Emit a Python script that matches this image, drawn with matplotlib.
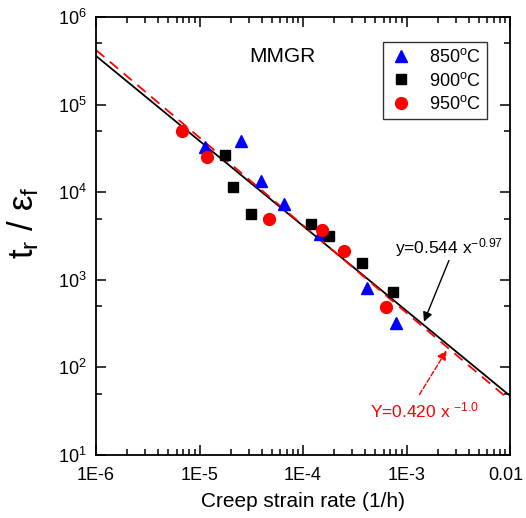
import matplotlib
matplotlib.use("Agg")
import matplotlib.pyplot as plt
import matplotlib.transforms as mtransforms
import numpy as np
from matplotlib.ticker import LogLocator, FixedLocator, FixedFormatter, NullFormatter

plt.rcParams['font.family'] = ['Liberation Sans', 'DejaVu Sans']
plt.rcParams['mathtext.fontset'] = 'custom'
plt.rcParams['mathtext.rm'] = 'Liberation Sans'
plt.rcParams['mathtext.it'] = 'Liberation Sans:italic'
plt.rcParams['mathtext.bf'] = 'Liberation Sans:bold'

# ---- data ----
rate_850 = [1.13e-5, 2.52e-5, 3.93e-5, 6.55e-5, 1.46e-4, 4.15e-4, 7.92e-4]
val_850 = [3.29e4, 3.84e4, 1.34e4, 7.33e3, 3.33e3, 806, 321]

rate_900 = [1.76e-5, 2.11e-5, 3.15e-5, 1.19e-4, 1.78e-4, 3.72e-4, 7.41e-4]
val_900 = [2.66e4, 1.15e4, 5.64e3, 4.33e3, 3.16e3, 1.56e3, 726]

rate_950 = [6.78e-6, 1.18e-5, 4.69e-5, 1.53e-4, 2.49e-4, 6.34e-4]
val_950 = [5.0e4, 2.52e4, 4.94e3, 3.70e3, 2.13e3, 489]

fit_black = (0.544, -0.97)
fit_red = (0.420, -1.0)

xtick_vals = [1e-6, 1e-5, 1e-4, 1e-3, 1e-2]
xtick_labels = ['1E-6', '1E-5', '1E-4', '1E-3', '0.01']

fig = plt.figure(figsize=(5.26, 5.18), dpi=100)
ax = fig.add_axes([96/526, 1-455/518, (510-96)/526, (455-17)/518])

xx = np.logspace(-6, -2, 200)
ax.plot(xx, fit_black[0]*xx**fit_black[1], color='black', lw=1.3, zorder=2)
ax.plot(xx, fit_red[0]*xx**fit_red[1], color='red', lw=1.3, dashes=(6, 4), zorder=2)

ax.plot(rate_850, val_850, linestyle='none', marker='^', ms=9, color='blue', mec='blue', label='850$^\\mathrm{o}$C', zorder=3)
ax.plot(rate_900, val_900, linestyle='none', marker='s', ms=7, color='black', label='900$^\\mathrm{o}$C', zorder=3)
ax.plot(rate_950, val_950, linestyle='none', marker='o', ms=8.5, color='red', label='950$^\\mathrm{o}$C', zorder=3)

ax.set_xscale('log')
ax.set_yscale('log')
ax.set_xlim(1e-6, 1e-2)
ax.set_ylim(10, 1e6)

ax.xaxis.set_major_locator(FixedLocator(xtick_vals))
ax.xaxis.set_major_formatter(FixedFormatter(xtick_labels))
ax.xaxis.set_minor_locator(LogLocator(base=10, subs=np.arange(2, 10), numticks=20))
ax.xaxis.set_minor_formatter(NullFormatter())
ax.yaxis.set_major_locator(LogLocator(base=10, numticks=10))
ax.yaxis.set_minor_locator(LogLocator(base=10, subs=[5.0], numticks=10))
ax.yaxis.set_minor_formatter(NullFormatter())

ax.tick_params(which='both', direction='in', top=True, right=True, width=1.1)
ax.tick_params(which='major', length=7, labelsize=13)
ax.tick_params(axis='x', which='major', pad=8.5)
ax.tick_params(axis='y', which='major', pad=6.5)
ax.tick_params(which='minor', length=4)
for s in ax.spines.values():
    s.set_linewidth(1.3)

ax.set_xlabel('Creep strain rate (1/h)', fontsize=15)
ax.xaxis.set_label_coords(0.5, -0.085)
ax.set_ylabel('t$_\\mathrm{r}$ / ε$_\\mathrm{f}$', fontsize=25)
ax.yaxis.set_label_coords(-0.133, 0.53)

ax.text(0.45, 0.91, 'MMGR', transform=ax.transAxes, fontsize=15, ha='center', va='center')

leg = ax.legend(loc='upper right', bbox_to_anchor=(0.944, 0.943), borderaxespad=0,
                fontsize=13, frameon=True, fancybox=False, handletextpad=0.9,
                borderpad=0.35, labelspacing=0.3, handlelength=1.3)
leg.get_frame().set_edgecolor('black')
leg.get_frame().set_linewidth(1.0)

# black annotation
xb_tip = 1.44e-3
ax.annotate('', xy=(xb_tip, fit_black[0]*xb_tip**fit_black[1]), xytext=(2.63e-3, 1775),
            arrowprops=dict(arrowstyle='-|>', color='black', lw=1.0, mutation_scale=14))
ax.text(7.74e-4, 2023, 'y=0.544 x$^{-0.97}$', fontsize=12.5, ha='left', va='baseline')

# red annotation
xr_tip = 2.52e-3
ax.annotate('', xy=(xr_tip, fit_red[0]*xr_tip**fit_red[1]), xytext=(1.29e-3, 45.9),
            arrowprops=dict(arrowstyle='-|>', color='red', lw=1.0, linestyle='--', mutation_scale=14))
ax.text(4.44e-4, 27.2, 'Y=0.420 x $^{-1.0}$', fontsize=12.5, color='red', ha='left', va='baseline')

# keep the last x tick label inside the canvas
fig.canvas.draw()
last = ax.xaxis.get_major_ticks()[-1].label1
last.set_transform(last.get_transform() + mtransforms.ScaledTranslation(-4/100, 0, fig.dpi_scale_trans))

fig.savefig('out.png', dpi=100)
